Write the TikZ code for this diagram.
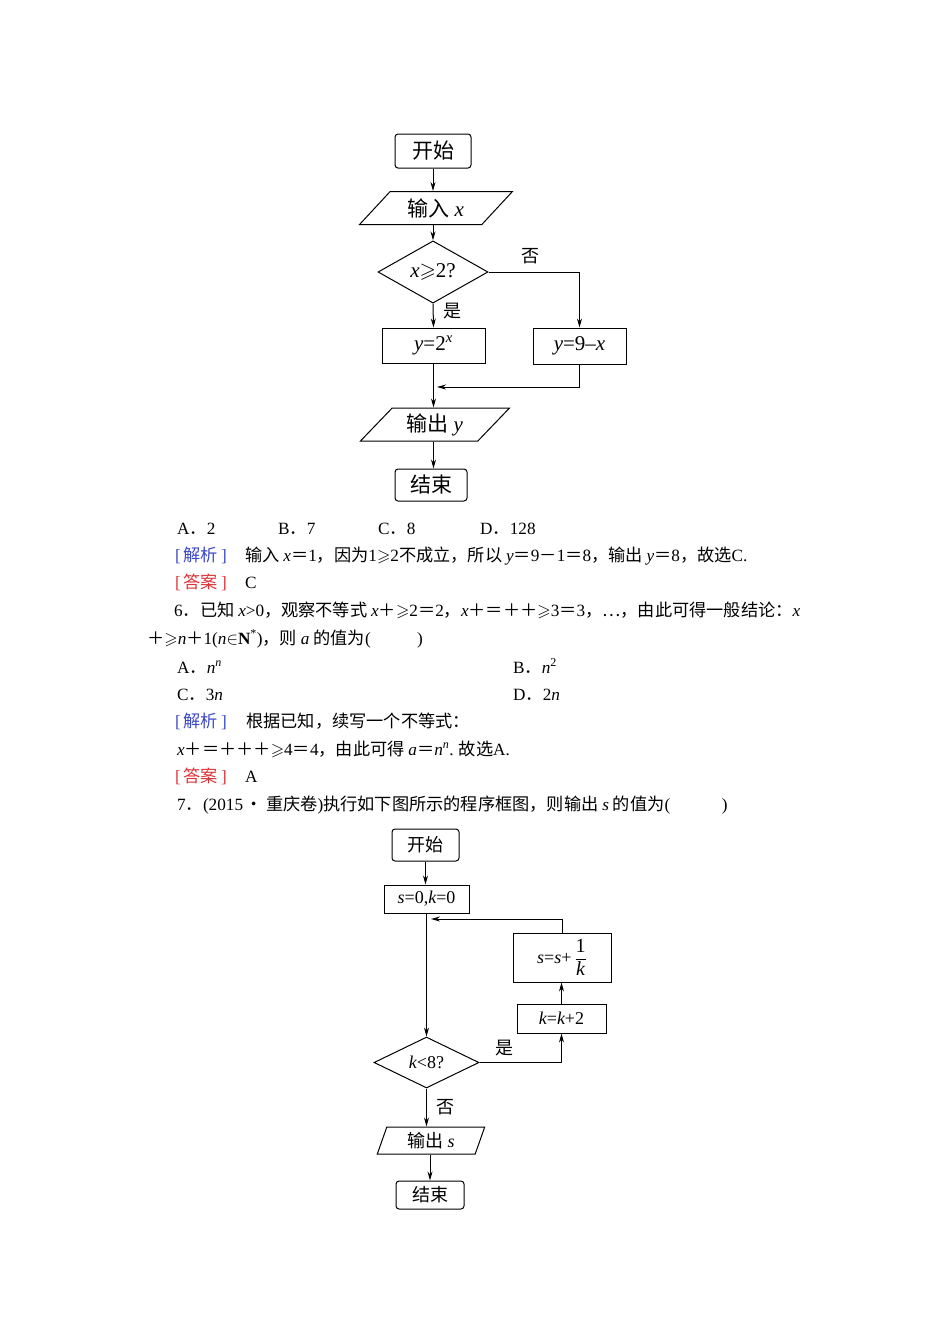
\documentclass[tikz,border=0pt]{standalone}
\usepackage{fontspec}
\usepackage{amsmath,amssymb}
\setmainfont{Noto Sans CJK SC}
\newfontfamily\lat{Liberation Serif}
\newcommand\mv[1]{{\lat\itshape #1}}
\newcommand\la[1]{{\lat #1}}
\usetikzlibrary{shapes.geometric,arrows.meta}
\definecolor{jxblue}{RGB}{60,72,200}
\definecolor{dared}{RGB}{222,50,55}
\newcommand\jiexi{{\color{jxblue}\la{[}\,解析\,\la{]}}}
\newcommand\daan{{\color{dared}\la{[}\,答案\,\la{]}}}
\begin{document}
\begin{tikzpicture}[x=1pt,y=-1pt,
  fc/.style={draw, line width=1pt, inner sep=0pt, align=center},
  term/.style={fc, rounded corners=3pt},
  proc/.style={fc},
  io/.style={fc, trapezium, trapezium stretches=true},
  dec/.style={fc, diamond},
  arr/.style={line width=1pt, -{Stealth[length=9pt,width=5pt]}},
  fa/.style={font=\fontsize{21}{24}\selectfont},
  fb/.style={font=\fontsize{18}{22}\selectfont},
  lbl/.style={inner sep=0pt, font=\fontsize{18}{22}\selectfont},
  txt/.style={anchor=base west, inner sep=0pt, font=\fontsize{17.2}{19}\selectfont},
]
\useasboundingbox[fill=white] (0,0) rectangle (950,1344);

% ---------- flowchart 1 ----------
\node[term, fa, minimum width=76, minimum height=34] (s1) at (433,151) {开始};
\node[io, fa, trapezium left angle=46, trapezium right angle=134, minimum width=153, minimum height=33] (in1) at (436,208) {输入 \mv{x}};
\node[dec, fa, minimum width=110, minimum height=52] (d1) at (433,272) {\mv{x}$\geqslant$\la{2?}};
\node[proc, fa, minimum width=103, minimum height=35] (a1) at (433.5,345.5) {\mv{y}\la{=2}\textsuperscript{\mv{x}}};
\node[proc, fa, minimum width=93, minimum height=36] (b1) at (579.5,346) {\mv{y}\la{=9–}\mv{x}};
\node[io, fa, trapezium left angle=47, trapezium right angle=133, minimum width=150, minimum height=33] (o1) at (435,424.5) {输出 \mv{y}};
\node[term, fa, minimum width=72, minimum height=32] (e1) at (431,485) {结束};
\coordinate (j1) at (437,387);

\draw[arr] (s1.south) -- (s1.south |- in1.north);
\draw[arr] (s1.south |- in1.south) -- (s1.south |- d1.north);
\draw[arr] (d1.south) -- (a1.north) node[lbl, midway, right=10pt, yshift=5pt] {是};
\draw[arr] (d1.east) -| (b1.north) node[lbl, pos=0.23, above=8pt] {否};
\draw[arr] (b1.south) |- (j1);
\draw[arr] (a1.south) -- (a1.south |- o1.north);
\draw[arr] (a1.south |- o1.south) -- (a1.south |- e1.north);

% ---------- text ----------
\node[txt] (t1a) at (177,534) {\la{A}．\la{2}};
\node[txt] (t1b) at (278,534) {\la{B}．\la{7}};
\node[txt] (t1c) at (378,534) {\la{C}．\la{8}};
\node[txt] (t1d) at (480,534) {\la{D}．\la{128}};
\node[txt] (t2a) at (175,561) {\jiexi};
\node[txt] (t2b) at (245,561) {输入 \mv{x}＝\la{1}，因为\la{1}$\geqslant$\la{2}不成立，所以 \mv{y}＝\la{9}－\la{1}＝\la{8}，输出 \mv{y}＝\la{8}，故选\la{C.}};
\node[txt] (t3a) at (175,588) {\daan};
\node[txt] (t3b) at (245,588) {\la{C}};
\node[txt] (t4) at (174,616) {\la{6}．已知 \mv{x}\la{>0}，观察不等式 \mv{x}＋$\geqslant$\la{2}＝\la{2}，\mv{x}＋＝＋＋$\geqslant$\la{3}＝\la{3}，…，由此可得一般结论：\mv{x}};
\node[txt] (t5) at (147,644) {＋$\geqslant$\mv{n}＋\la{1(}\mv{n}$\in${\lat\bfseries N}\textsuperscript{\la{*}}\la{)}，则 \mv{a} 的值为\la{(}\hspace{2.7em}\la{)}};
\node[txt] (t6a) at (177,673) {\la{A}．\mv{n}\textsuperscript{\mv{n}}};
\node[txt] (t6b) at (513,673) {\la{B}．\mv{n}\textsuperscript{\la{2}}};
\node[txt] (t7a) at (177,700) {\la{C}．\la{3}\mv{n}};
\node[txt] (t7b) at (513,700) {\la{D}．\la{2}\mv{n}};
\node[txt] (t8a) at (175,727) {\jiexi};
\node[txt] (t8b) at (246,727) {根据已知，续写一个不等式：};
\node[txt] (t9) at (177,755) {\mv{x}＋＝＋＋＋$\geqslant$\la{4}＝\la{4}，由此可得 \mv{a}＝\mv{n}\textsuperscript{\mv{n}}\la{.} 故选\la{A.}};
\node[txt] (t10a) at (175,782) {\daan};
\node[txt] (t10b) at (245,782) {\la{A}};
\node[txt] (t11) at (177,810) {\la{7}．\la{(2015}\,•\,重庆卷\la{)}执行如下图所示的程序框图，则输出 \mv{s} 的值为\la{(}\hspace{3em}\la{)}};

% ---------- flowchart 2 ----------
\node[term, fb, minimum width=67, minimum height=32] (s2) at (425.5,845) {开始};
\node[proc, fb, minimum width=85, minimum height=28] (i2) at (426.5,899) {\mv{s}\la{=0,}\mv{k}\la{=0}};
\node[dec, fb, minimum width=105, minimum height=51] (d2) at (426.5,1062.5) {\mv{k}\la{<8?}};
\node[proc, fb, minimum width=89, minimum height=29] (k2) at (561.5,1018.5) {\mv{k}\la{=}\mv{k}\la{+2}};
\node[proc, fb, minimum width=98, minimum height=49] (ss2) at (562,957.5) {\mv{s}\la{=}\mv{s}\la{+}\,$\dfrac{\text{\fontsize{20}{22}\selectfont\la{1}}}{\text{\fontsize{20}{22}\selectfont\mv{k}}}$};
\node[io, fb, trapezium left angle=73, trapezium right angle=107, minimum width=108, minimum height=27] (o2) at (431,1140.5) {输出 \mv{s}};
\node[term, fb, minimum width=68, minimum height=28] (e2) at (430,1195) {结束};
\coordinate (j2) at (431,919);

\draw[arr] (s2.south) -- (s2.south |- i2.north);
\draw[arr] (i2.south) -- (d2.north);
\draw[arr] (d2.east) -| (k2.south) node[lbl, pos=0.15, above=6pt] {是};
\draw[arr] (k2.north) -- (k2.north |- ss2.south);
\draw[arr] (ss2.north) |- (j2);
\draw[arr] (d2.south) -- (d2.south |- o2.north) node[lbl, midway, right=9pt] {否};
\draw[arr] (e2.north |- o2.south) -- (e2.north);
\end{tikzpicture}
\end{document}
